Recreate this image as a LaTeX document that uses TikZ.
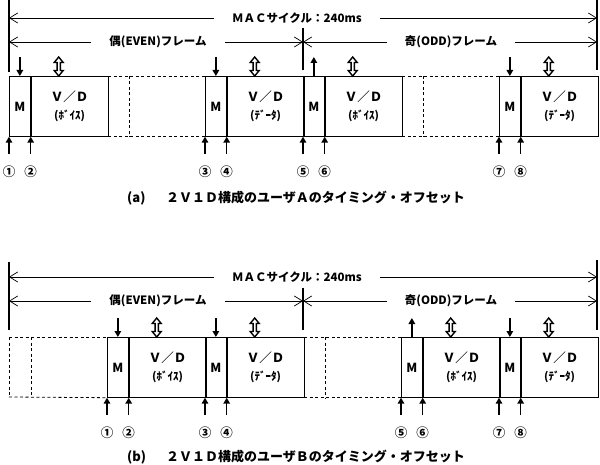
\documentclass[tikz,border=0pt]{standalone}
\usepackage{fontspec}
\newfontfamily\jp{Noto Sans CJK JP}
\usetikzlibrary{arrows.meta}
\tikzset{
 dim/.style={line width=0.7pt, {Straight Barb[length=8pt,width=10pt]}-{Straight Barb[length=8pt,width=10pt]}},
 dimlab/.style={fill=white, inner xsep=18pt, inner ysep=1pt, font=\jp\bfseries\fontsize{11.5}{12}\selectfont},
 frameline/.style={line width=1.2pt},
 mbox/.style={draw, line width=0.7pt, anchor=north west, minimum width=21pt, minimum height=60pt, inner sep=0pt, font=\jp\bfseries\fontsize{12.5}{12}\selectfont},
 vbox/.style={draw, line width=0.7pt, anchor=north west, minimum width=77pt, minimum height=60pt, inner sep=0pt, align=center, font=\jp\bfseries\fontsize{12.5}{18}\selectfont},
 dsh/.style={line width=0.8pt, dash pattern=on 3pt off 2.5pt},
 ptr/.style={line width=1.5pt, -{Triangle[length=6pt,width=6.5pt]}},
 num/.style={font=\jp\bfseries\fontsize{12.5}{12}\selectfont, inner sep=0pt},
 captext/.style={font=\jp\bfseries\fontsize{13}{13}\selectfont, anchor=west, inner sep=0pt},
 dblarrow/.pic={\draw[line width=1.4pt, fill=white] (0,0) -- (-4.5,-5.5) -- (-1.6,-5.5) -- (-1.6,-13.5) -- (-4.5,-13.5) -- (0,-19) -- (4.5,-13.5) -- (1.6,-13.5) -- (1.6,-5.5) -- (4.5,-5.5) -- cycle;}
}
\newcommand\blk[4]{%
 \node[mbox] (#1m) at (#2,#3) {M};
 \node[vbox] (#1v) at (#1m.north east) {Ｖ／Ｄ\\\fontsize{11}{11}\selectfont #4};
 \pic at ([xshift=28pt]#1v.north west) {dblarrow};
 \draw[ptr] ([yshift=-17pt]#1m.south west) -- (#1m.south west);
 \draw[ptr] ([yshift=-17pt]#1m.south east) -- (#1m.south east);
}
\newcommand\dnptr[1]{\draw[ptr] ([yshift=19pt]#1m.north) -- (#1m.north);}
\newcommand\upptr[1]{\draw[ptr] (#1m.north) -- ([yshift=19pt]#1m.north);}
\newcommand\nums[3]{%
 \node[num] (#1n1) at ([yshift=-35pt]#1m.south west) {#2};
 \node[num] (#1n2) at ([yshift=-35pt]#1m.south east) {#3};}
\begin{document}
\begin{tikzpicture}[x=1pt,y=-1pt]
\useasboundingbox (0,0) rectangle (600,465);
% ---------------- (a) ----------------
\coordinate (aL0) at (9,0);   \coordinate (aL1) at (9,72);
\coordinate (aR0) at (597,0); \coordinate (aR1) at (597,70);
\coordinate (aM0) at (303,28);\coordinate (aM1) at (303,70);
\draw[frameline] (aL0) -- (aL1);
\draw[frameline] (aR0) -- (aR1);
\draw[frameline] (aM0) -- (aM1);
\coordinate (amacL) at (9,18); \coordinate (amacR) at (597,18);
\draw[dim] (amacL) -- (amacR);
\node[dimlab] (amac) at (297,18) {ＭＡＣサイクル：240ms};
\coordinate (aevL) at (9,42); \coordinate (aevR) at (303,42); \coordinate (aodR) at (597,42);
\draw[dim] (aevL) -- (aevR);
\draw[dim] (aevR) -- (aodR);
\node[dimlab] (aev) at (158,42) {偶(EVEN)フレーム};
\node[dimlab] (aod) at (451,42) {奇(ODD)フレーム};
\blk{a1}{9}{76}{(ﾎﾞｲｽ)}
\blk{a2}{205}{76}{(ﾃﾞｰﾀ)}
\blk{a3}{303}{76}{(ﾎﾞｲｽ)}
\blk{a4}{499}{76}{(ﾃﾞｰﾀ)}
\dnptr{a1}\dnptr{a2}\upptr{a3}\dnptr{a4}
\draw[dsh] (a1v.north east) -- (a2m.north west);
\draw[dsh] (a1v.south east) -- (a2m.south west);
\draw[dsh] ([xshift=21pt]a1v.north east) -- ([xshift=21pt]a1v.south east);
\draw[dsh] (a3v.north east) -- (a4m.north west);
\draw[dsh] (a3v.south east) -- (a4m.south west);
\draw[dsh] ([xshift=21pt]a3v.north east) -- ([xshift=21pt]a3v.south east);
\nums{a1}{①}{②}\nums{a2}{③}{④}\nums{a3}{⑤}{⑥}\nums{a4}{⑦}{⑧}
\node[captext] (acapl) at (127,198) {(a)};
\node[captext] (acap) at (166,198) {２Ｖ１Ｄ構成のユーザＡのタイミング・オフセット};
% ---------------- (b) ----------------
\coordinate (bL0) at (9,262);   \coordinate (bL1) at (9,330);
\coordinate (bR0) at (597,260); \coordinate (bR1) at (597,330);
\coordinate (bM0) at (303,288); \coordinate (bM1) at (303,330);
\draw[frameline] (bL0) -- (bL1);
\draw[frameline] (bR0) -- (bR1);
\draw[frameline] (bM0) -- (bM1);
\coordinate (bmacL) at (9,277); \coordinate (bmacR) at (597,277);
\draw[dim] (bmacL) -- (bmacR);
\node[dimlab] (bmac) at (297,277) {ＭＡＣサイクル：240ms};
\coordinate (bevL) at (9,301); \coordinate (bevR) at (303,301); \coordinate (bodR) at (597,301);
\draw[dim] (bevL) -- (bevR);
\draw[dim] (bevR) -- (bodR);
\node[dimlab] (bev) at (158,301) {偶(EVEN)フレーム};
\node[dimlab] (bod) at (451,301) {奇(ODD)フレーム};
\blk{b1}{107}{337}{(ﾎﾞｲｽ)}
\blk{b2}{205}{337}{(ﾃﾞｰﾀ)}
\blk{b3}{401}{337}{(ﾎﾞｲｽ)}
\blk{b4}{499}{337}{(ﾃﾞｰﾀ)}
\dnptr{b1}\dnptr{b2}\upptr{b3}\dnptr{b4}
\coordinate (bd0) at (9,337); \coordinate (bd1) at (9,397);
\coordinate (bd2) at (31,337); \coordinate (bd3) at (31,397);
\draw[dsh] (bd0) -- (b1m.north west);
\draw[dsh] (bd1) -- (b1m.south west);
\draw[dsh] (bd0) -- (bd1);
\draw[dsh] (bd2) -- (bd3);
\draw[dsh] (b2v.north east) -- (b3m.north west);
\draw[dsh] (b2v.south east) -- (b3m.south west);
\draw[dsh] ([xshift=21pt]b2v.north east) -- ([xshift=21pt]b2v.south east);
\nums{b1}{①}{②}\nums{b2}{③}{④}\nums{b3}{⑤}{⑥}\nums{b4}{⑦}{⑧}
\node[captext] (bcapl) at (127,457) {(b)};
\node[captext] (bcap) at (166,457) {２Ｖ１Ｄ構成のユーザＢのタイミング・オフセット};
\end{tikzpicture}
\end{document}
